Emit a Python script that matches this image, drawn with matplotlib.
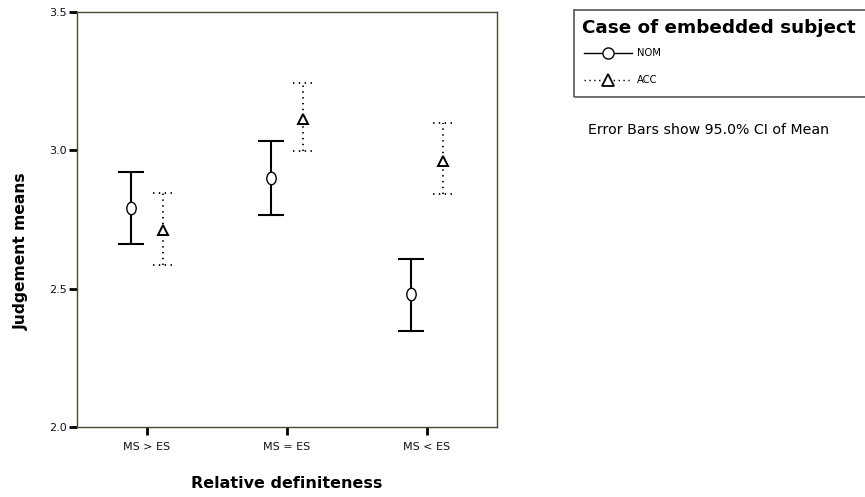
import matplotlib.pyplot as plt
import numpy as np
from matplotlib.lines import Line2D
from matplotlib.patches import Rectangle
from matplotlib.path import Path
from matplotlib.markers import MarkerStyle

plt.rcParams['font.family'] = ['DejaVu Sans']
plt.rcParams['lines.scale_dashes'] = False

categories = ['MS > ES', 'MS = ES', 'MS < ES']

# Case of embedded subject: NOM
nom_mean = [2.793, 2.899, 2.480]
nom_low = [2.660, 2.767, 2.346]
nom_high = [2.920, 3.035, 2.609]

# Case of embedded subject: ACC
acc_mean = [2.712, 3.113, 2.963]
acc_low = [2.587, 2.998, 2.842]
acc_high = [2.847, 3.242, 3.097]

W, H = 865, 497
fig = plt.figure(figsize=(W / 100, H / 100), dpi=100)
ax = fig.add_axes([77 / W, 1 - 427 / H, (497 - 77) / W, (427 - 12) / H])

x = np.arange(len(categories))
off = 0.115
dotted = (0, (1.0, 3.2))

# taller-than-wide circle like the original
circ = Path.unit_circle()
ell = Path(circ.vertices * [0.75, 1.0], circ.codes)

xn = x - off
xa = x + off

# NOM: solid bars
ax.vlines(xn, nom_low, nom_high, color='black', lw=1.5, zorder=2)
ax.hlines(nom_low, xn - 0.093, xn + 0.093, color='black', lw=1.5, zorder=2)
ax.hlines(nom_high, xn - 0.093, xn + 0.093, color='black', lw=1.5, zorder=2)
ax.plot(xn, nom_mean, linestyle='none', marker=MarkerStyle(ell), markersize=9,
        markerfacecolor='white', markeredgecolor='black', markeredgewidth=1.0, zorder=3)

# ACC: dotted bars
ax.vlines(xa, acc_low, acc_high, color='black', lw=1.3, linestyles=[dotted], zorder=2)
ax.hlines(acc_low, xa - 0.07, xa + 0.07, color='black', lw=1.3, linestyles=[dotted], zorder=2)
ax.hlines(acc_high, xa - 0.07, xa + 0.07, color='black', lw=1.3, linestyles=[dotted], zorder=2)
ax.plot(xa, acc_mean, linestyle='none', marker='^', markersize=7.5,
        markerfacecolor='white', markeredgecolor='black', markeredgewidth=1.4, zorder=3)

ax.set_xlim(-0.5, 2.5)
ax.set_ylim(2.0, 3.5)
ax.set_yticks([2.0, 2.5, 3.0, 3.5])
ax.set_yticklabels(['2.0', '2.5', '3.0', '3.5'])
ax.set_xticks(x)
ax.set_xticklabels(categories)
ax.tick_params(axis='both', direction='out', length=5.5, width=2, color='black',
               labelsize=8, labelcolor='#111111')
ax.tick_params(axis='x', pad=5)
ax.tick_params(axis='y', pad=1.5)

for s in ax.spines.values():
    s.set_color('#4a4a30')
    s.set_linewidth(1.0)

fig.text(21 / W, 1 - 251 / H, 'Judgement means', rotation=90, ha='center', va='center',
         fontsize=11.2, fontweight='bold')
fig.text(287 / W, 1 - 483 / H, 'Relative definiteness', ha='center', va='center',
         fontsize=11.5, fontweight='bold')

# legend box (runs off the right edge like the original)
fig.patches.append(Rectangle((574 / W, 1 - 97 / H), 320 / W, 87 / H,
                             transform=fig.transFigure, fill=False,
                             edgecolor='#555555', linewidth=1.2))
fig.text(582 / W, 1 - 28 / H, 'Case of embedded subject', ha='left', va='center',
         fontsize=13.2, fontweight='bold')

y1 = 1 - 53 / H
y2 = 1 - 80 / H
fig.lines.append(Line2D([584 / W, 632 / W], [y1, y1], transform=fig.transFigure,
                        color='black', lw=1.0))
fig.lines.append(Line2D([608 / W], [y1], transform=fig.transFigure, color='black',
                        marker='o', markersize=8, markerfacecolor='white',
                        markeredgewidth=1.0, linestyle='none'))
fig.text(637 / W, y1, 'NOM', ha='left', va='center', fontsize=7.2)
fig.lines.append(Line2D([584 / W, 632 / W], [y2, y2], transform=fig.transFigure,
                        color='black', lw=1.0, linestyle=(0, (1, 2.5))))
fig.lines.append(Line2D([608 / W], [y2], transform=fig.transFigure, color='black',
                        marker='^', markersize=8, markerfacecolor='white',
                        markeredgewidth=1.3, linestyle='none'))
fig.text(637 / W, y2, 'ACC', ha='left', va='center', fontsize=7.2)

fig.text(588 / W, 1 - 130 / H, 'Error Bars show 95.0% CI of Mean', ha='left',
         va='center', fontsize=10.2)

fig.savefig('out.png', dpi=100)
